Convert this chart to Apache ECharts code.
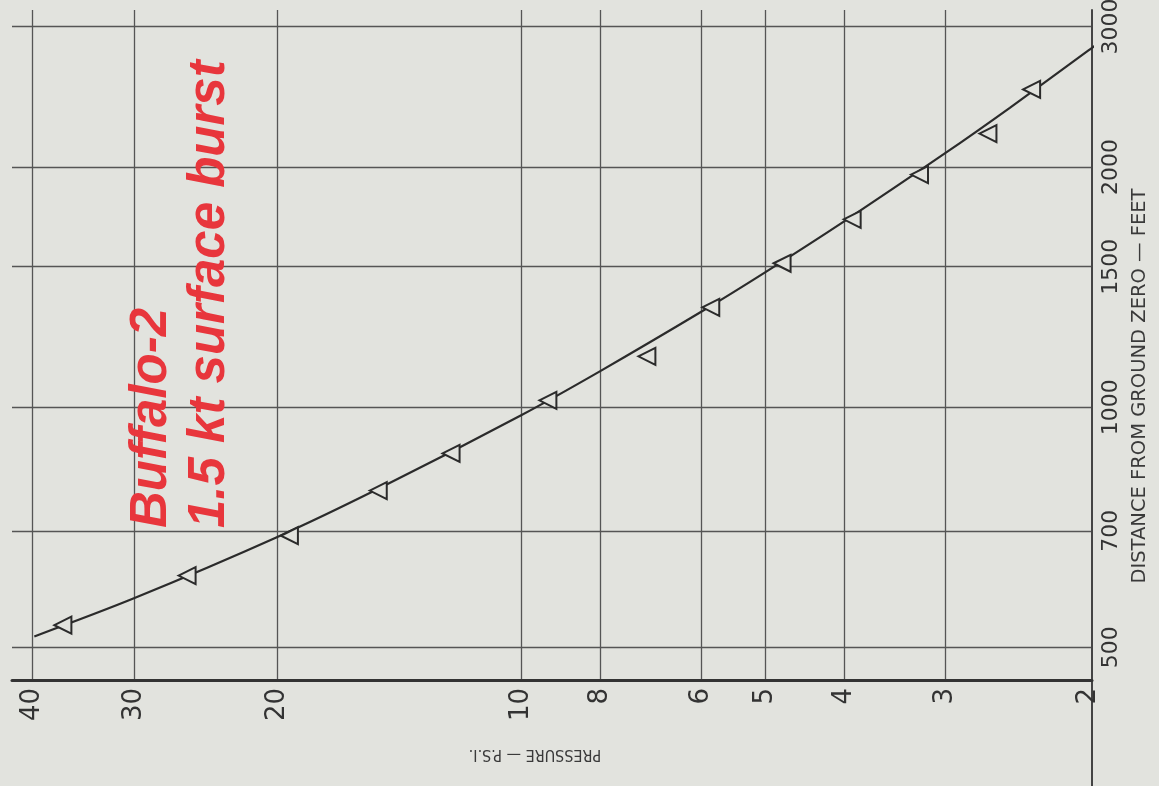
<!DOCTYPE html>
<html>
<head>
<meta charset="utf-8">
<script src="https://cdn.jsdelivr.net/npm/echarts@6/dist/echarts.min.js"></script>
<style>
  html, body { margin: 0; padding: 0; background: #e2e3de; }
  #chart { width: 1159px; height: 786px; }
</style>
</head>
<body>
<div id="chart"></div>
<script>
// Tick values on the two logarithmic axes
const pressureTicks = [40, 30, 20, 10, 8, 6, 5, 4, 3, 2];
const pressureGrid = [40, 30, 20, 10, 8, 6, 5, 4, 3];
const distanceTicks = [500, 700, 1000, 1500, 2000, 3000];

// Measured overpressure (psi) and ground range (ft)
const measuredPressure = [36.7, 25.8, 19.3, 15.0, 12.2, 9.27, 7.0, 5.84, 4.77, 3.91, 3.23, 2.66, 2.35];
const measuredDistance = [533, 615, 690, 786, 875, 1020, 1158, 1334, 1515, 1720, 1957, 2203, 2502];

// Faired curve through the measurements
const curvePressure = [39.8, 30, 20, 15, 10, 8, 6, 5, 4, 3, 2.5, 2, 1.92];
const curveDistance = [516, 576, 687, 790, 977, 1109, 1317, 1477, 1710, 2083, 2373, 2800, 2890];

const ink = '#2b2b2b';
const paper = '#e2e3de';

const chart = echarts.init(document.getElementById('chart'));
chart.setOption({
  backgroundColor: paper,
  animation: false,
  grid: { left: 12, right: 67, top: 10, bottom: 106, outerBoundsMode: 'none' },
  xAxis: {
    type: 'log',
    logBase: 10,
    inverse: true,
    min: 1.98,
    max: 42.4,
    name: 'PRESSURE — P.S.I.',
    nameLocation: 'middle',
    nameGap: 66,
    nameRotate: 180,
    nameTextStyle: {
      fontFamily: "'Liberation Sans Narrow', 'DejaVu Sans Condensed', sans-serif",
      fontSize: 16, color: '#3a3a3a', padding: [0, 0, 0, 34]
    },
    axisLine: { show: true, lineStyle: { color: '#333', width: 3 } },
    axisTick: { show: false, customValues: pressureGrid },
    axisLabel: {
      customValues: pressureTicks,
      formatter: (v) => String(v),
      rotate: 90, margin: 8,
      fontFamily: "'DejaVu Sans', sans-serif", fontSize: 26, color: '#333'
    },
    splitLine: { show: true, lineStyle: { color: '#555', width: 1.3 } }
  },
  yAxis: {
    type: 'log',
    logBase: 10,
    position: 'right',
    min: 455,
    max: 3147,
    name: 'DISTANCE FROM GROUND ZERO — FEET',
    nameLocation: 'middle',
    nameGap: 32,
    nameRotate: 90,
    nameTextStyle: {
      fontFamily: "'DejaVu Sans', sans-serif",
      fontSize: 19.5, color: '#3a3a3a', padding: [0, 82, 0, 0]
    },
    axisLine: { show: true, lineStyle: { color: '#444', width: 2 } },
    axisTick: { show: false, customValues: distanceTicks },
    axisLabel: {
      customValues: distanceTicks,
      formatter: (v) => String(v),
      rotate: 90, margin: 8,
      fontFamily: "'DejaVu Sans', sans-serif", fontSize: 22, color: '#333'
    },
    splitLine: { show: true, lineStyle: { color: '#555', width: 1.3 } }
  },
  graphic: [
    {
      type: 'line',
      shape: { x1: 1092, y1: 680, x2: 1092, y2: 786 },
      style: { stroke: '#444', lineWidth: 2 }
    },
    {
      type: 'text',
      x: 123,
      y: 528,
      rotation: Math.PI / 2,
      z: 10,
      style: {
        text: 'Buffalo-2\n1.5 kt surface burst',
        fontFamily: "'Liberation Sans', Arial, sans-serif",
        fontSize: 51,
        fontWeight: 'bold',
        fontStyle: 'italic',
        lineHeight: 58,
        fill: '#e8363c',
        align: 'left',
        verticalAlign: 'top'
      }
    }
  ],
  series: [
    {
      type: 'line',
      data: curvePressure.map((p, i) => [p, curveDistance[i]]),
      smooth: 0.3,
      showSymbol: false,
      clip: false,
      lineStyle: { color: ink, width: 2.2 },
      z: 3
    },
    {
      type: 'scatter',
      data: measuredPressure.map((p, i) => [p, measuredDistance[i]]),
      symbol: 'triangle',
      symbolRotate: 90,
      symbolSize: [17, 17],
      itemStyle: { color: paper, borderColor: ink, borderWidth: 2, opacity: 1 },
      z: 4
    }
  ]
});
</script>
</body>
</html>
